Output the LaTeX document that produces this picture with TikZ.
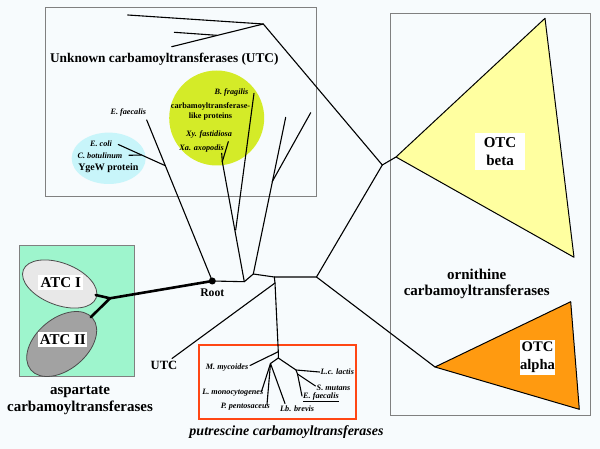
\documentclass[tikz,border=0pt]{standalone}
\usepackage{fontspec}
\setmainfont{Liberation Serif}
\usetikzlibrary{shapes.geometric}
\definecolor{bgc}{RGB}{247,251,253}
\definecolor{boxgray}{RGB}{128,128,128}
\definecolor{lime}{RGB}{212,235,40}
\definecolor{lcyan}{RGB}{200,245,250}
\definecolor{mint}{RGB}{158,245,205}
\definecolor{atcone}{RGB}{232,232,232}
\definecolor{atctwo}{RGB}{162,162,162}
\definecolor{lyellow}{RGB}{255,255,160}
\definecolor{otcorange}{RGB}{255,154,16}
\definecolor{redbox}{RGB}{255,70,20}
\begin{document}
\begin{tikzpicture}[x=1pt,y=-1pt,
  br/.style={line width=1.1pt, black, line cap=round, line join=round},
  thickbr/.style={line width=2.6pt, black, line cap=round},
  frame/.style={draw=boxgray, line width=0.9pt},
  sp/.style={font=\fontsize{8.2}{9.5}\selectfont\bfseries\itshape, inner sep=0pt},
  big/.style={font=\fontsize{15}{17}\selectfont\bfseries, inner sep=0pt, align=center},
  wlabel/.style={fill=white, inner sep=0pt, align=center}]
\useasboundingbox (0,0) rectangle (600,449);
\fill[bgc] (0,0) rectangle (600,449);

% boxes
\node[fill=mint, draw=boxgray, line width=0.9pt, minimum width=115.3pt, minimum height=131pt, inner sep=0pt] (atcbox) at (76.65,311.2) {};
\node[frame, minimum width=271pt, minimum height=188.7pt, inner sep=0pt] (utcbox) at (181.2,101.65) {};
\node[frame, minimum width=200.7pt, minimum height=401.7pt, inner sep=0pt] (otcbox) at (490.35,214.15) {};
\node[draw=redbox, line width=1.8pt, minimum width=157pt, minimum height=74pt, inner sep=0pt] (putbox) at (277.5,382) {};

% coloured groups in UTC
\node[circle, fill=lime, minimum size=95pt, inner sep=0pt] (limecirc) at (216.7,118) {};
\node[ellipse, fill=lcyan, minimum width=74pt, minimum height=51.4pt, inner sep=0pt] (cyanell) at (108.7,158.3) {};

% ATC ellipses
\node[ellipse, fill=atcone, draw=black!70, line width=0.8pt, minimum width=78pt, minimum height=42pt, rotate=-21, inner sep=0pt] (atcI) at (59.7,284) {};
\node[ellipse, fill=atctwo, draw=black!70, line width=0.8pt, minimum width=80.6pt, minimum height=51.2pt, rotate=40, inner sep=0pt] (atcII) at (61.7,344) {};

% triangles
\coordinate (ya) at (396,157);
\coordinate (yt) at (545,18.3);
\coordinate (yb) at (574,257.3);
\coordinate (oa) at (435,367);
\coordinate (ot) at (570.7,301.7);
\coordinate (ob) at (579.3,409.3);
\filldraw[fill=lyellow, draw=black, line width=1pt, line join=round] (ya) -- (yt) -- (yb) -- cycle;
\filldraw[fill=otcorange, draw=black, line width=1pt, line join=round] (oa) -- (ot) -- (ob) -- cycle;

% tree coordinates
\node[circle, fill=black, inner sep=0pt, minimum size=7pt] (root) at (212.3,281) {};
\coordinate (n2) at (244.3,281.7);
\coordinate (n3) at (253.3,274);
\coordinate (n4) at (274.3,277);
\coordinate (n5) at (316.5,277);
\coordinate (n6) at (382.3,165);
\coordinate (n7) at (263.3,24);
\coordinate (t1) at (127.7,15);
\coordinate (t2) at (171.7,46.7);
\coordinate (t2b) at (216.7,35.3);
\coordinate (t3) at (174.3,32.3);
\coordinate (ef) at (146.7,120);
\coordinate (ej) at (165.3,165.7);
\coordinate (ec) at (118.3,144.5);
\coordinate (cbj) at (141,155);
\coordinate (cb) at (129,155.3);
\coordinate (x0) at (222.3,161.7);
\coordinate (xy) at (228.3,141.7);
\coordinate (xa) at (221.7,153.3);
\coordinate (bfj) at (235.7,230);
\coordinate (bf) at (254,93.3);
\coordinate (r1) at (285.7,117.3);
\coordinate (r2) at (310.7,112.7);
\coordinate (r2j) at (272.2,181.7);
\coordinate (v1) at (275,283);
\coordinate (utcend) at (172,358.5);
\coordinate (pm) at (278.3,351.7);
\coordinate (mm) at (250,365.5);
\coordinate (pj) at (278.3,358);
\coordinate (pl) at (270.5,363.5);
\coordinate (lmo) at (261.5,391.5);
\coordinate (ppe) at (267,404.5);
\coordinate (lbr) at (285,403.5);
\coordinate (pr) at (296,370);
\coordinate (lla) at (319.5,372);
\coordinate (ps) at (297.5,374);
\coordinate (smu) at (315.5,386);
\coordinate (efa) at (302,396);
\coordinate (atcj) at (110,298.3);
\coordinate (atcIe) at (95.7,295);
\coordinate (atcIIe) at (90.7,317.3);

% tree branches
\draw[br] (ef) -- (root.center);
\draw[br] (ec) -- (ej);
\draw[br] (cb) -- (cbj);
\draw[br] (xy) -- (x0);
\draw[br] (xa) -- (x0);
\draw[br] (x0) -- (n2);
\draw[br] (bf) -- (bfj);
\draw[br] (r1) -- (n3);
\draw[br] (r2) -- (r2j);
\draw[br] (root.center) -- (n2) -- (n3) -- (n4) -- (n5) -- (n6) -- (n7) -- (t1);
\draw[br] (n7) -- (t2);
\draw[br] (t2b) -- (t3);
\draw[br] (n6) -- (ya);
\draw[br] (n5) -- (oa);
\draw[br] (n4) -- (v1) -- (utcend);
\draw[br] (v1) -- (pm) -- (pj);
\draw[br] (pm) -- (mm);
\draw[br] (pj) -- (pl) -- (lmo);
\draw[br] (pl) -- (ppe);
\draw[br] (pl) -- (lbr);
\draw[br] (pj) -- (pr) -- (lla);
\draw[br] (pr) -- (ps) -- (smu);
\draw[br] (ps) -- (efa);

% ATC thick lines
\draw[thickbr] (atcIe) -- (atcj) -- (root.center);
\draw[thickbr] (atcIIe) -- (atcj);

% labels
\node[font=\fontsize{13.3}{15}\selectfont\bfseries, inner sep=0pt] (utctitle) at (164.3,59.3) {Unknown carbamoyltransferases (UTC)};
\node[sp] (lefa) at (128.3,112.7) {E. faecalis};
\node[sp, anchor=east] (lbf) at (248.5,92.7) {B. fragilis};
\node[font=\fontsize{8.2}{10}\selectfont\bfseries, inner sep=0pt, align=center] (lctl) at (210.5,111) {carbamoyltransferase-\\like proteins};
\node[sp] (lxy) at (209,134.3) {Xy. fastidiosa};
\node[sp] (lxa) at (201.7,148.3) {Xa. axopodis};
\node[sp] (lec) at (101,144) {E. coli};
\node[sp] (lcb) at (100,156) {C. botulinum};
\node[font=\fontsize{10}{12}\selectfont\bfseries, inner sep=0pt] (lygew) at (108.3,168) {YgeW protein};

\node[wlabel, font=\fontsize{15}{17}\selectfont\bfseries, minimum width=45pt, minimum height=15pt] (latcI) at (60.8,282.5) {ATC I};
\node[wlabel, font=\fontsize{15}{17}\selectfont\bfseries, minimum width=49pt, minimum height=15pt] (latcII) at (62.8,339.2) {ATC II};
\node[font=\fontsize{11.7}{13}\selectfont\bfseries, inner sep=0pt] (lroot) at (212.3,292.7) {Root};
\node[font=\fontsize{12.6}{14}\selectfont\bfseries, inner sep=0pt] (lutc) at (164,365.5) {UTC};
\node[big] (lasp1) at (80,391.7) {aspartate};
\node[big] (lasp2) at (80,408.3) {carbamoyltransferases};

\node[sp, anchor=east] (lmm) at (248.5,368) {M. mycoides};
\node[sp, anchor=east] (llmo) at (263.5,392.3) {L. monocytogenes};
\node[sp, anchor=east] (lppe) at (270,406.5) {P. pentosaceus};
\node[sp, anchor=west] (llbr) at (280,408.3) {Lb. brevis};
\node[sp, anchor=west] (llla) at (320.5,372) {L.c. lactis};
\node[sp, anchor=west] (lsmu) at (316.5,387.5) {S. mutans};
\node[sp, anchor=west] (lefa2) at (303,397.5) {\underline{E. faecalis}};
\node[font=\fontsize{14}{16}\selectfont\bfseries\itshape, inner sep=0pt] (lput) at (286.5,432) {putrescine carbamoyltransferases};

\node[wlabel, font=\fontsize{15}{18.3}\selectfont\bfseries, minimum width=50pt, minimum height=37pt] (lotcb) at (500,151.7) {OTC\\beta};
\node[wlabel, font=\fontsize{14.6}{18.3}\selectfont\bfseries, minimum width=35pt, minimum height=35pt] (lotca) at (537.5,357.5) {OTC\\alpha};
\node[big] (lorn1) at (476.7,274) {ornithine};
\node[big] (lorn2) at (476.7,291.7) {carbamoyltransferases};
\end{tikzpicture}
\end{document}
